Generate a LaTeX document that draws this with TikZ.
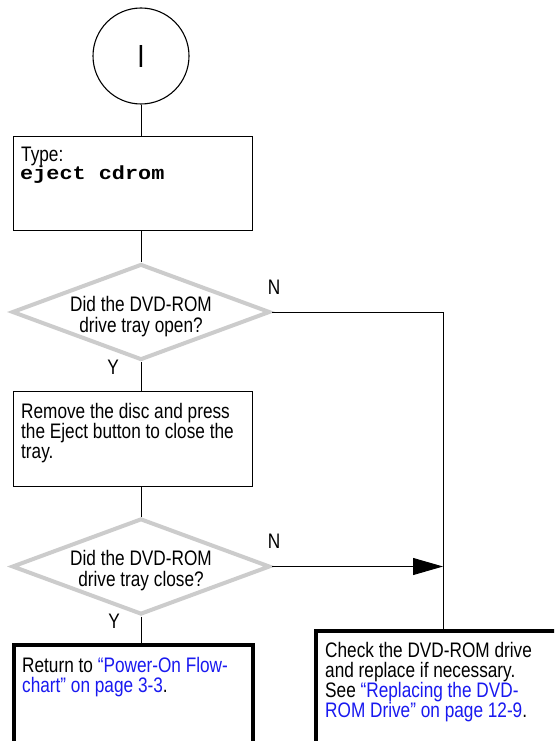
\documentclass[tikz,border=0pt]{standalone}
\usepackage{fontspec}
\setmainfont{Liberation Sans}[FakeStretch=0.82]
\newfontfamily\codefont{Liberation Mono}[FakeStretch=1.15]
\usetikzlibrary{shapes.geometric,arrows.meta}
\definecolor{linkblue}{RGB}{25,25,240}
\definecolor{diagray}{RGB}{204,204,204}
\newcommand\bodysize{\fontsize{21}{20}\selectfont}
\newcommand\lnk[1]{\textcolor{linkblue}{#1}}
\newcommand\mll[1]{\vtop{\halign{##\hfil\cr #1\crcr}}}
\newcommand\mlc[1]{\vtop{\baselineskip=21pt\halign{\hfil##\hfil\cr #1\crcr}}}
\begin{document}
\begin{tikzpicture}[x=1pt,y=-1pt,
  conn/.style={draw=black, line width=0.9pt},
  stepbox/.style={draw=black, line width=0.9pt, rectangle, inner sep=0pt},
  endbox/.style={draw=black, line width=4pt, rectangle, inner sep=0pt, fill=white},
  decision/.style={diamond, draw=diagray, line width=4pt, inner sep=0pt, minimum width=258pt, minimum height=96pt},
  txt/.style={inner sep=0pt, anchor=base west, font=\bodysize},
  ctxt/.style={inner sep=0pt, anchor=base, font=\bodysize},
  yn/.style={inner sep=0pt, font=\bodysize},
]
\useasboundingbox (0,0) rectangle (554,741);
\clip (0,0) rectangle (554,741);
\fill[white] (0,0) rectangle (554,741);

% nodes
\node[circle, draw=black, line width=1.1pt, minimum size=96pt, inner sep=0pt,
      font=\fontsize{32}{32}\selectfont] (start) at (141,56) {I};

\node[stepbox, minimum width=239pt, minimum height=94pt] (b1) at (133,183.5) {};
\node[txt] (b1t) at (21,161) {Type:};
\node[txt, font=\fontsize{19}{20}\selectfont\codefont\bfseries] (b1c) at (20,179) {eject cdrom};

\node[decision] (d1) at (141,312) {};
\node[ctxt] (d1t) at (141,311) {\mlc{Did the DVD-ROM\cr drive tray open?}};

\node[stepbox, minimum width=239pt, minimum height=95pt] (b2) at (133,439) {};
\node[txt] (b2t) at (21,418) {\mll{Remove the disc and press\cr the Eject button to close the\cr tray.}};

\node[decision] (d2) at (141,566.5) {};
\node[ctxt] (d2t) at (141,565.5) {\mlc{Did the DVD-ROM\cr drive tray close?}};

\node[endbox, minimum width=239pt, minimum height=155pt] (b4) at (133.5,722.5) {};
\node[txt] (b4t) at (22,672) {\mll{Return to \lnk{“Power-On Flow-}\cr \lnk{chart” on page 3-3}.}};

\node[endbox, minimum width=304pt, minimum height=169pt] (b3) at (468,715.5) {};
\node[txt] (b3t) at (325,657) {\mll{Check the DVD-ROM drive\cr and replace if necessary.\cr See \lnk{“Replacing the DVD-}\cr \lnk{ROM Drive” on page 12-9}.}};

\coordinate (j) at (443,312);

% connectors
\draw[conn] (start.south) -- (start.south |- b1.north);
\draw[conn] (b1.south -| start) -- (d1.north);
\draw[conn] (d1.south) -- (d1.south |- b2.north);
\draw[conn] (b2.south -| d1) -- (d2.north);
\draw[conn] (d2.south) -- (d2.south |- b4.north);
\draw[conn] (d1.east) -- (j) -- (j |- b3.north);
\draw[conn, -{Triangle[length=30pt,width=17pt]}] (d2.east) -- (d2.east -| j);

% labels
\node[yn] (n1) at (274,287) {N};
\node[yn] (y1) at (113,367) {Y};
\node[yn] (n2) at (274,541) {N};
\node[yn] (y2) at (114,621) {Y};
\end{tikzpicture}
\end{document}
